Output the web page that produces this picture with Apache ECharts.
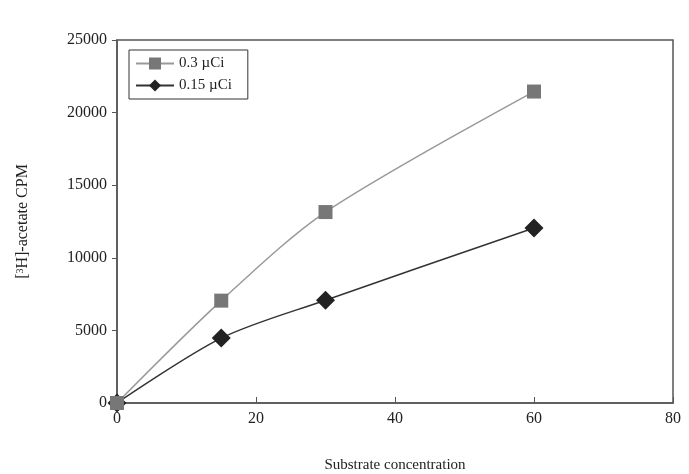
<!DOCTYPE html>
<html>
<head>
<meta charset="utf-8">
<script src="https://cdn.jsdelivr.net/npm/echarts@6/dist/echarts.min.js"></script>
<style>
html,body{margin:0;padding:0;background:#fff;}
#chart{width:689px;height:474px;}
</style>
</head>
<body>
<div id="chart"></div>
<script>
// substrate concentration values and CPM readings
var xVals = [0, 15, 30, 60];
var cpmHigh = [0, 7050, 13150, 21450];   // 0.3 µCi
var cpmLow = [0, 4470, 7080, 12050];     // 0.15 µCi
var seriesNames = ['0.3 \u00b5Ci', '0.15 \u00b5Ci'];

function pairs(xs, ys) {
    return xs.map(function (x, i) { return [x, ys[i]]; });
}

var font = 'Liberation Serif';
var chart = echarts.init(document.getElementById('chart'));

var option = {
    animation: false,
    textStyle: {fontFamily: font},
    grid: {
        left: 117, right: 16, top: 40, bottom: 71,
        outerBoundsMode: 'none',
        show: true, borderColor: '#555', borderWidth: 1.5
    },
    legend: {
        orient: 'vertical',
        left: 129, top: 50,
        itemWidth: 38, itemHeight: 15, itemGap: 7,
        padding: [6, 16, 6, 6],
        borderColor: '#333', borderWidth: 1,
        textStyle: {fontFamily: font, fontSize: 15, color: '#222'},
        data: seriesNames
    },
    xAxis: {
        type: 'value', min: 0, max: 80, interval: 20,
        name: 'Substrate concentration',
        nameLocation: 'middle', nameGap: 55,
        nameTextStyle: {fontFamily: font, fontSize: 15, color: '#222'},
        axisLine: {lineStyle: {color: '#555', width: 1.5}},
        axisTick: {inside: true, length: 6, lineStyle: {color: '#555'}},
        axisLabel: {fontFamily: font, fontSize: 16, color: '#222', margin: 8},
        splitLine: {show: false}
    },
    yAxis: {
        type: 'value', min: 0, max: 25000, interval: 5000,
        name: '{b|[}{s|3}{b|H]-acetate CPM}',
        nameLocation: 'middle', nameGap: 86,
        nameTextStyle: {
            fontFamily: font, fontSize: 16, color: '#222',
            rich: {
                b: {fontFamily: font, fontSize: 16, color: '#222'},
                s: {fontFamily: font, fontSize: 10, color: '#222', verticalAlign: 'top', padding: [0, 0, 6, 0]}
            }
        },
        axisLine: {show: true, lineStyle: {color: '#555', width: 1.5}},
        axisTick: {show: true, length: 5, lineStyle: {color: '#555'}},
        axisLabel: {fontFamily: font, fontSize: 16, color: '#222', margin: 10,
            formatter: function (v) { return String(v); }},
        splitLine: {show: false}
    },
    series: [{
        name: seriesNames[0],
        type: 'line',
        z: 3,
        smooth: 0.3,
        clip: false,
        symbol: 'rect',
        symbolSize: 14,
        itemStyle: {color: '#777'},
        lineStyle: {color: '#999', width: 1.5},
        data: pairs(xVals, cpmHigh)
    }, {
        name: seriesNames[1],
        type: 'line',
        z: 2,
        smooth: 0.3,
        clip: false,
        symbol: 'diamond',
        symbolSize: 19,
        itemStyle: {color: '#222'},
        lineStyle: {color: '#333', width: 1.5},
        data: pairs(xVals, cpmLow)
    }]
};
chart.setOption(option);
</script>
</body>
</html>
